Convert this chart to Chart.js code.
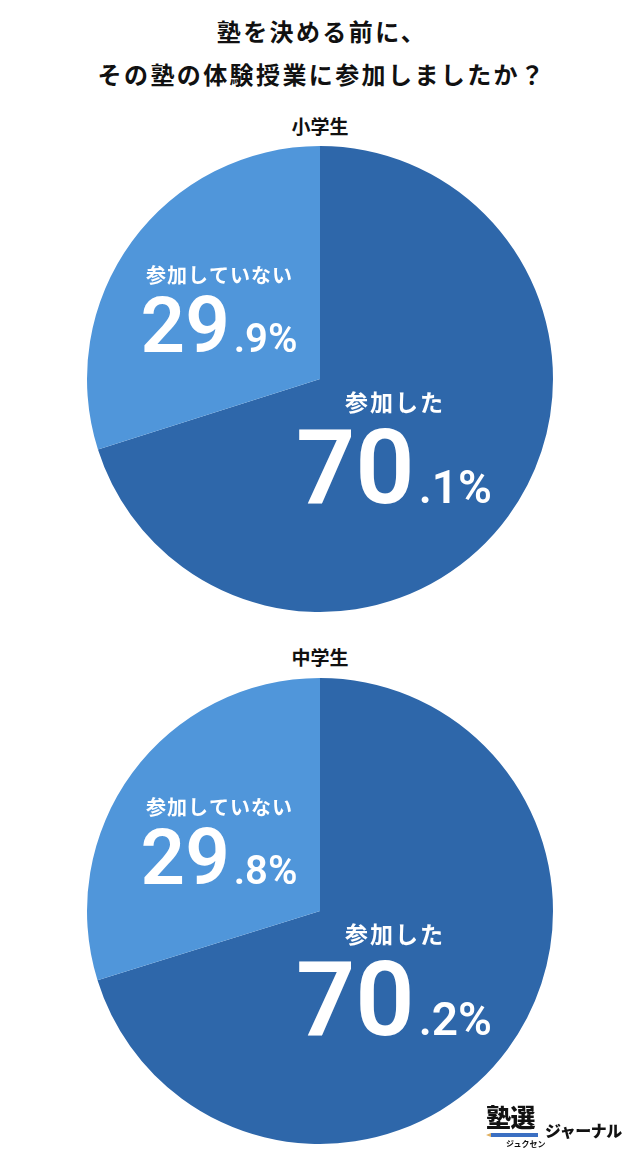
<!DOCTYPE html>
<html><head><meta charset="utf-8">
<script src="https://cdn.jsdelivr.net/npm/chart.js@4.4.0/dist/chart.umd.min.js"></script>
<style>
html,body{margin:0;padding:0;background:#fff;}
body{width:640px;height:1169px;position:relative;overflow:hidden;font-family:"Noto Sans CJK JP",sans-serif;}
.t{position:absolute;left:0;width:640px;text-align:center;font-weight:700;color:#111;}
#title{top:9px;font-size:24px;line-height:43px;letter-spacing:2.4px;padding-left:2px;}
.sub{font-size:19px;line-height:24px;}
.cv{position:absolute;left:86px;width:468px;height:468px;}
#logo{position:absolute;left:486px;top:1102px;width:150px;height:60px;}
</style></head>
<body>
<div id="title" class="t">塾を決める前に、<br>その塾の体験授業に参加しましたか？</div>
<div class="t sub" style="top:114px">小学生</div>
<div class="t sub" style="top:645px">中学生</div>
<div class="cv" style="top:145px"><canvas id="c1" width="468" height="468"></canvas></div>
<div class="cv" style="top:677px"><canvas id="c2" width="468" height="468"></canvas></div>
<div id="logo">
  <div style="position:absolute;left:0;top:-4px;font-size:25px;font-weight:900;color:#111;letter-spacing:-0.5px;">塾選</div>
  <div style="position:absolute;left:5px;top:31px;width:47px;height:4px;background:#3b6fc2;"></div>
  <div style="position:absolute;left:0;top:31px;width:0;height:0;border-top:2px solid transparent;border-bottom:2px solid transparent;border-right:5px solid #e0b060;"></div>
  <div style="position:absolute;left:20px;top:36px;font-size:8px;font-weight:700;color:#111;">ジュクセン</div>
  <div style="position:absolute;left:59px;top:16px;font-size:16px;font-weight:900;color:#111;letter-spacing:-0.5px;">ジャーナル</div>
</div>
<script>
const categories = ["参加した", "参加していない"];
const elementaryValues = [70.1, 29.9];
const juniorValues = [70.2, 29.8];
const sliceColors = ["#2e67aa", "#5096da"];

// label placement (offsets from pie centre) and font sizes per slice
const labelLayout = [
  {dx: 74, labelY: 23, labelSize: 23, spacing: 2, numY: 124, big: 104, small: 46},
  {dx: -101, labelY: -104, labelSize: 20, spacing: 1, numY: -27, big: 78, small: 40}
];

const labelPlugin = {
  id: 'sliceLabels',
  afterDatasetsDraw(chart) {
    const ctx = chart.ctx;
    const meta = chart.getDatasetMeta(0);
    const data = chart.data.datasets[0].data;
    meta.data.forEach((arc, i) => {
      const cx = arc.x, cy = arc.y;
      const L = labelLayout[i];
      const x = cx + L.dx;
      ctx.save();
      ctx.fillStyle = '#fff';
      ctx.textBaseline = 'middle';
      ctx.textAlign = 'center';
      ctx.font = '700 ' + L.labelSize + 'px "Noto Sans CJK JP"';
      if ('letterSpacing' in ctx) ctx.letterSpacing = L.spacing + 'px';
      ctx.fillText(chart.data.labels[i], x + L.spacing / 2, cy + L.labelY);
      if ('letterSpacing' in ctx) ctx.letterSpacing = '0px';
      const s = data[i].toFixed(1);
      const intPart = s.split('.')[0];
      const rest = '.' + s.split('.')[1] + '%';
      ctx.textBaseline = 'alphabetic';
      ctx.textAlign = 'left';
      const bigFont = '600 ' + L.big + 'px Roboto';
      const smallFont = '600 ' + L.small + 'px Roboto';
      ctx.font = bigFont;
      const w1 = ctx.measureText(intPart).width;
      ctx.font = smallFont;
      const w2 = ctx.measureText(rest).width;
      const gap = 4;
      const start = x - (w1 + gap + w2) / 2;
      ctx.font = bigFont;
      ctx.fillText(intPart, start, cy + L.numY);
      ctx.font = smallFont;
      ctx.fillText(rest, start + w1 + gap, cy + L.numY);
      ctx.restore();
    });
  }
};

function makePie(id, values) {
  return new Chart(document.getElementById(id), {
    type: 'pie',
    data: {labels: categories, datasets: [{data: values, backgroundColor: sliceColors, borderWidth: 0}]},
    options: {
      responsive: false, animation: false,
      layout: {padding: 1},
      plugins: {legend: {display: false}, tooltip: {enabled: false}}
    },
    plugins: [labelPlugin]
  });
}
makePie('c1', elementaryValues);
makePie('c2', juniorValues);
</script>
</body></html>
